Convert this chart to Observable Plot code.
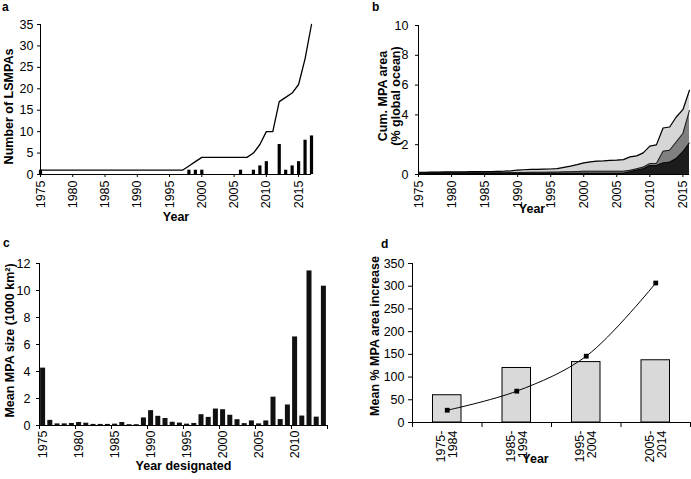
<!DOCTYPE html>
<html>
<head>
<meta charset="utf-8">
<script src="https://cdn.jsdelivr.net/npm/d3@7"></script>
<script src="https://cdn.jsdelivr.net/npm/@observablehq/plot@0.6"></script>
<style>
  html, body { margin: 0; padding: 0; background: white; }
  #fig { position: relative; width: 691px; height: 479px; background: white; font-family: "Liberation Sans", Arial, sans-serif; overflow: hidden; }
  .panel { position: absolute; }
  .letter { position: absolute; font-weight: bold; font-size: 12px; line-height: 14px; color: black; }
  #fig svg g[aria-label$="tick label"], #fig svg g[aria-label$="tick label"] text { font-size: 12.5px; }
</style>
</head>
<body>
<div id="fig">
  <div class="panel" id="pa" style="left:0;top:0"></div>
  <div class="panel" id="pb" style="left:350px;top:0"></div>
  <div class="panel" id="pc" style="left:0;top:230px"></div>
  <div class="panel" id="pd" style="left:350px;top:230px"></div>
  <div class="letter" style="left:2px;top:0px">a</div>
  <div class="letter" style="left:372px;top:0px">b</div>
  <div class="letter" style="left:3px;top:236px">c</div>
  <div class="letter" style="left:381px;top:237px">d</div>
</div>
<script>
// ---------- Panel a: number of LSMPAs ----------
const yearsA = [1975,1976,1977,1978,1979,1980,1981,1982,1983,1984,1985,1986,1987,1988,1989,1990,1991,1992,1993,1994,1995,1996,1997,1998,1999,2000,2001,2002,2003,2004,2005,2006,2007,2008,2009,2010,2011,2012,2013,2014,2015,2016,2017];
const cumulativeA = [1,1,1,1,1,1,1,1,1,1,1,1,1,1,1,1,1,1,1,1,1,1,1,2,3,4,4,4,4,4,4,4,4,5,7,10,10,17,18,19,21,27,35];
const barYearsA = [1975,1998,1999,2000,2006,2008,2009,2010,2012,2013,2014,2015,2016,2017];
const barCountsA = [1,1,1,1,1,1,2,3,7,1,2,3,8,9];
const xTicksA = [1975,1980,1985,1990,1995,2000,2005,2010,2015];
const yTicksA = [0,5,10,15,20,25,30,35];

// ---------- Panel b: cumulative MPA area ----------
const yearsB = [1975,1976,1977,1978,1979,1980,1981,1982,1983,1984,1985,1986,1987,1988,1989,1990,1991,1992,1993,1994,1995,1996,1997,1998,1999,2000,2001,2002,2003,2004,2005,2006,2007,2008,2009,2010,2011,2012,2013,2014,2015,2016];
const totalB = [0.15,0.15,0.16,0.16,0.17,0.17,0.18,0.18,0.19,0.19,0.2,0.2,0.21,0.22,0.24,0.3,0.32,0.34,0.35,0.36,0.37,0.4,0.48,0.56,0.66,0.78,0.85,0.9,0.92,0.95,0.97,1.0,1.18,1.25,1.45,1.9,1.99,3.12,3.19,3.86,4.35,5.65];
const middleB = [0.12,0.12,0.12,0.12,0.12,0.12,0.12,0.12,0.12,0.12,0.12,0.12,0.12,0.12,0.12,0.14,0.14,0.15,0.15,0.15,0.16,0.16,0.18,0.19,0.2,0.22,0.22,0.22,0.22,0.22,0.22,0.22,0.28,0.38,0.5,0.74,0.74,1.56,1.63,2.19,2.75,4.3];
const bottomB = [0.08,0.08,0.08,0.08,0.08,0.08,0.08,0.08,0.08,0.08,0.08,0.08,0.08,0.08,0.08,0.08,0.08,0.08,0.08,0.08,0.08,0.08,0.08,0.08,0.08,0.08,0.08,0.08,0.08,0.08,0.08,0.08,0.18,0.29,0.38,0.6,0.6,0.78,0.83,1.07,1.52,2.12];
const xTicksB = [1975,1980,1985,1990,1995,2000,2005,2010,2015];
const yTicksB = [0,2,4,6,8,10];

// ---------- Panel c: mean MPA size ----------
const yearsC = [1975,1976,1977,1978,1979,1980,1981,1982,1983,1984,1985,1986,1987,1988,1989,1990,1991,1992,1993,1994,1995,1996,1997,1998,1999,2000,2001,2002,2003,2004,2005,2006,2007,2008,2009,2010,2011,2012,2013,2014];
const sizeC = [4.25,0.38,0.12,0.12,0.15,0.22,0.17,0.08,0.08,0.08,0.1,0.22,0.06,0.06,0.56,1.1,0.68,0.52,0.24,0.18,0.1,0.15,0.8,0.6,1.22,1.17,0.76,0.43,0.14,0.34,0.12,0.34,2.1,0.44,1.52,6.56,0.7,11.45,0.62,10.32];
const labelYearsC = [1975,1980,1985,1990,1995,2000,2005,2010];
const yTicksC = [0,2,4,6,8,10,12];

// ---------- Panel d: mean % MPA area increase ----------
const periodsD = ["1975-\n1984","1985-\n1994","1995-\n2004","2005-\n2014"];
const barsD = [60,120,133,137];
const lineD = [27,69,146,307];
const yTicksD = [0,50,100,150,200,250,300,350];

const FS = 12.5;
const style = {fontFamily: "'Liberation Sans', Arial, sans-serif", fontSize: "12.5px", color: "black", background: "white", overflow: "visible"};

// Panel a
const lineDataA = yearsA.map((year, i) => ({year, total: cumulativeA[i]}));
const barDataA = barYearsA.map((year, i) => ({year, count: barCountsA[i]}));
const chartA = Plot.plot({
  width: 345, height: 230, marginLeft: 40, marginRight: 34, marginTop: 24, marginBottom: 56,
  style,
  x: {domain: [1975, 2017]},
  y: {domain: [0, 35]},
  marks: [
    Plot.ruleX(barDataA, {x: "year", y1: 0, y2: "count", stroke: "black", strokeWidth: 3.2}),
    Plot.line(lineDataA, {x: "year", y: "total", stroke: "black", strokeWidth: 1.3}),
    Plot.ruleY([0], {stroke: "black"}),
    Plot.ruleX([1975], {stroke: "black"}),
    Plot.axisY({ticks: yTicksA, tickSize: 3, tickPadding: 4, label: null, fontSize: FS}),
    Plot.axisX({ticks: xTicksA, tickSize: 3, tickPadding: 3, tickRotate: -90, tickFormat: "d", label: null, fontSize: FS}),
    Plot.text(["Number of LSMPAs"], {frameAnchor: "left", textAnchor: "middle", rotate: -90, dx: -32, dy: 7, fontWeight: "bold", fontSize: 12.5}),
    Plot.text(["Year"], {frameAnchor: "bottom", dy: 46, fontWeight: "bold", fontSize: 12.5})
  ]
});
document.getElementById("pa").appendChild(chartA);

// Panel b
const dataB = yearsB.map((year, i) => ({year, total: totalB[i], middle: middleB[i], bottom: bottomB[i]}));
const chartB = Plot.plot({
  width: 341, height: 230, marginLeft: 68, marginRight: 2, marginTop: 25, marginBottom: 56,
  style,
  x: {domain: [1975, 2016]},
  y: {domain: [0, 10]},
  marks: [
    Plot.areaY(dataB, {x: "year", y: "total", fill: "#d6d6d6"}),
    Plot.areaY(dataB, {x: "year", y: "middle", fill: "#808080"}),
    Plot.areaY(dataB, {x: "year", y: "bottom", fill: "#1c1c1c"}),
    Plot.lineY(dataB, {x: "year", y: "total", stroke: "black", strokeWidth: 1.2}),
    Plot.lineY(dataB, {x: "year", y: "middle", stroke: "black", strokeWidth: 0.8}),
    Plot.lineY(dataB, {x: "year", y: "bottom", stroke: "black", strokeWidth: 0.8}),
    Plot.ruleY([0], {stroke: "black"}),
    Plot.ruleX([1975], {stroke: "black"}),
    Plot.axisY({ticks: yTicksB, tickSize: 3, tickPadding: 7, label: null, fontSize: FS}),
    Plot.axisX({ticks: xTicksB, tickSize: 3, tickPadding: 3, tickRotate: -90, tickFormat: "d", label: null, fontSize: FS}),
    Plot.text(["Cum. MPA area\n(% global ocean)"], {frameAnchor: "left", textAnchor: "middle", rotate: -90, dx: -29, dy: -4, fontWeight: "bold", fontSize: 12.5, lineHeight: 1.0}),
    Plot.text(["Year"], {frameAnchor: "bottom", dx: -22, dy: 38, fontWeight: "bold", fontSize: 12.5})
  ]
});
document.getElementById("pb").appendChild(chartB);

// Panel c
const dataC = yearsC.map((year, i) => ({year, size: sizeC[i]}));
const boundaryTicksC = labelYearsC.map(y => y - 0.5).concat([yearsC[yearsC.length - 1] + 0.5]);
const chartC = Plot.plot({
  width: 345, height: 249, marginLeft: 39, marginRight: 18, marginTop: 33, marginBottom: 54,
  style,
  x: {domain: [yearsC[0] - 0.5, yearsC[yearsC.length - 1] + 0.5]},
  y: {domain: [0, 12]},
  marks: [
    Plot.rectY(dataC, {x1: d => d.year - 0.5, x2: d => d.year + 0.5, y: "size", fill: "#111", insetLeft: 1.1, insetRight: 1.1}),
    Plot.ruleY([0], {stroke: "black"}),
    Plot.ruleX([yearsC[0] - 0.5], {stroke: "black"}),
    Plot.axisY({ticks: yTicksC, tickSize: 3, tickPadding: 6, label: null, fontSize: FS}),
    Plot.axisX({ticks: boundaryTicksC, tickSize: 4, tickFormat: () => "", label: null}),
    Plot.axisX({ticks: labelYearsC, tickSize: 0, tickPadding: 5, tickRotate: -90, tickFormat: "d", label: null, fontSize: FS}),
    Plot.text(["Mean MPA size (1000 km²)"], {frameAnchor: "left", textAnchor: "middle", rotate: -90, dx: -30, dy: -4, fontWeight: "bold", fontSize: 12.5}),
    Plot.text(["Year designated"], {frameAnchor: "bottom", dy: 44, fontWeight: "bold", fontSize: 12.5})
  ]
});
document.getElementById("pc").appendChild(chartC);

// Panel d
const dataD = periodsD.map((period, i) => ({i, period, bar: barsD[i], line: lineD[i]}));
const boundaryTicksD = [-0.5, 0.5, 1.5, 2.5, 3.5];
const chartD = Plot.plot({
  width: 341, height: 249, marginLeft: 62, marginRight: 1, marginTop: 33, marginBottom: 57,
  style,
  x: {domain: [-0.5, periodsD.length - 0.5]},
  y: {domain: [0, 350]},
  marks: [
    Plot.rectY(dataD, {x1: d => d.i - 0.5, x2: d => d.i + 0.5, y: "bar", fill: "#d9d9d9", stroke: "black", strokeWidth: 1, insetLeft: 20.5, insetRight: 20.5}),
    Plot.line(dataD, {x: "i", y: "line", stroke: "black", strokeWidth: 1, curve: "catmull-rom"}),
    Plot.dot(dataD, {x: "i", y: "line", symbol: "square", r: 2.7, fill: "black", stroke: "none"}),
    Plot.ruleY([0], {stroke: "black"}),
    Plot.ruleX([-0.5], {stroke: "black"}),
    Plot.axisY({ticks: yTicksD, tickSize: 4, tickPadding: 4, label: null, fontSize: FS}),
    Plot.axisX({ticks: boundaryTicksD, tickSize: 5, tickFormat: () => "", label: null}),
    Plot.axisX({ticks: [0,1,2,3], tickSize: 0, tickPadding: 8, tickRotate: -90, tickFormat: i => periodsD[i], label: null, fontSize: FS, lineHeight: 0.95}),
    Plot.text(["Mean % MPA area increase"], {frameAnchor: "left", textAnchor: "middle", rotate: -90, dx: -38, dy: -7, fontWeight: "bold", fontSize: 12.5}),
    Plot.text(["Year"], {frameAnchor: "bottom", dx: -16, dy: 40, fontWeight: "bold", fontSize: 12.5})
  ]
});
document.getElementById("pd").appendChild(chartD);
</script>
</body>
</html>
